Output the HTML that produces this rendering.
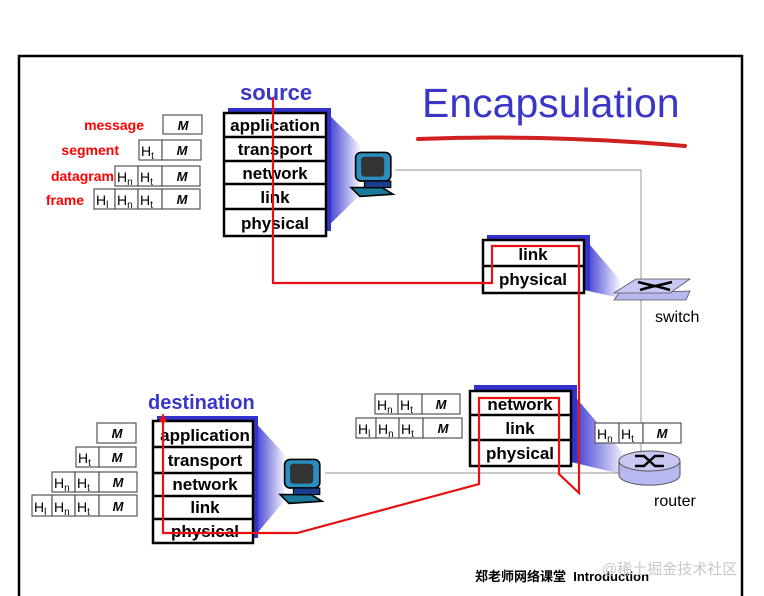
<!DOCTYPE html>
<html><head><meta charset="utf-8"><style>
html,body{margin:0;padding:0;background:#fff;}
svg{display:block;}
.st{font-family:"Liberation Sans",sans-serif;font-weight:bold;font-size:17px;fill:#000;}
.lb{font-family:"Liberation Sans",sans-serif;font-weight:bold;font-size:14px;fill:#f00;}
.h{font-family:"Liberation Sans",sans-serif;font-size:14px;fill:#000;}
.m{font-family:"Liberation Sans",sans-serif;font-weight:bold;font-style:italic;font-size:13px;fill:#000;}
.bl{font-family:"Liberation Sans",sans-serif;font-weight:bold;fill:#3a36c8;}
.g{font-family:"Liberation Sans",sans-serif;font-size:16px;fill:#000;}
</style></head><body>
<svg width="764" height="596" viewBox="0 0 764 596" xmlns="http://www.w3.org/2000/svg">
<defs>
<linearGradient id="sh" x1="0" y1="0" x2="1" y2="0">
<stop offset="0" stop-color="#3030d0"/><stop offset="1" stop-color="#3030d0" stop-opacity="0.05"/>
</linearGradient>
<g id="pc">
<path d="M2 36 L30 36 L40 42 L10 44 Z" fill="#1b7a9a" stroke="#000" stroke-width="1.5"/>
<rect x="6" y="4" width="32" height="26" rx="5" fill="#2a8fc0" stroke="#000" stroke-width="1.5"/>
<rect x="11" y="8" width="21" height="18" rx="3" fill="#333"/>
<rect x="14" y="30" width="24" height="6" fill="#1a3c8c" stroke="#000"/>
</g>
</defs>
<rect x="19" y="56" width="723" height="560" fill="none" stroke="#000" stroke-width="2.5"/>

<text x="422" y="117" class="bl" style="font-weight:normal;font-size:41px">Encapsulation</text>
<path d="M418 139 Q550 134 685 146" stroke="#d02020" stroke-width="4" fill="none" stroke-linecap="round"/>

<polyline points="395,170 641,170 641,455" fill="none" stroke="#aaa" stroke-width="1.2"/>
<line x1="325" y1="473" x2="625" y2="473" stroke="#aaa" stroke-width="1.2"/>

<text x="240" y="100" class="bl" style="font-size:22px">source</text>
<polygon points="326,112 360,145 360,195 326,228" fill="url(#sh)"/>
<rect x="228" y="108" width="103" height="123" fill="#3333cc"/>
<g fill="#fff" stroke="#000" stroke-width="2.5">
<rect x="224" y="113" width="102" height="123"/>
<line x1="224" y1="137" x2="326" y2="137"/><line x1="224" y1="161" x2="326" y2="161"/>
<line x1="224" y1="184" x2="326" y2="184"/><line x1="224" y1="209" x2="326" y2="209"/>
</g>
<g class="st" text-anchor="middle">
<text x="275" y="131">application</text><text x="275" y="155">transport</text>
<text x="275" y="179">network</text><text x="275" y="203">link</text><text x="275" y="229">physical</text>
</g>
<use href="#pc" transform="translate(349,148) scale(1.1)"/>

<g class="lb" text-anchor="end">
<text x="144" y="130">message</text><text x="119" y="155">segment</text>
<text x="114" y="181">datagram</text><text x="84" y="205">frame</text>
</g>
<g fill="#fff" stroke="#555" stroke-width="1.2">
<rect x="163" y="115" width="39" height="19"/>
<rect x="139" y="140" width="23" height="20"/><rect x="162" y="140" width="39" height="20"/>
<rect x="115" y="166" width="23" height="20"/><rect x="138" y="166" width="24" height="20"/><rect x="162" y="166" width="38" height="20"/>
<rect x="94" y="189" width="21" height="20"/><rect x="115" y="189" width="23" height="20"/><rect x="138" y="189" width="24" height="20"/><rect x="162" y="189" width="38" height="20"/>
</g>
<g class="m" text-anchor="middle">
<text x="183" y="130">M</text><text x="182" y="155">M</text><text x="182" y="181">M</text><text x="182" y="204">M</text>
</g>
<g class="h">
<text x="141" y="156">H<tspan font-size="10" dy="3">t</tspan></text>
<text x="117" y="182">H<tspan font-size="10" dy="3">n</tspan></text><text x="140" y="182">H<tspan font-size="10" dy="3">t</tspan></text>
<text x="96" y="205">H<tspan font-size="10" dy="3">l</tspan></text><text x="117" y="205">H<tspan font-size="10" dy="3">n</tspan></text><text x="140" y="205">H<tspan font-size="10" dy="3">t</tspan></text>
</g>

<polygon points="584,238 620,280 620,298 584,290" fill="url(#sh)"/>
<rect x="487" y="235" width="103" height="55" fill="#3333cc"/>
<g fill="#fff" stroke="#000" stroke-width="2.5">
<rect x="483" y="240" width="101" height="53"/><line x1="483" y1="266" x2="584" y2="266"/>
</g>
<g class="st" text-anchor="middle"><text x="533" y="260">link</text><text x="533" y="285">physical</text></g>
<polygon points="614,300 686,300 690,291 619,293 " fill="#b8b8f0" stroke="#555" stroke-width="0.8"/>
<polygon points="614,293 636,279 690,279 670,293" fill="#c8c8f4" stroke="#555" stroke-width="0.8"/>
<path d="M638 282 Q650 285 655 286 Q660 285 672 282 M640 290 Q650 287 655 286 Q660 287 670 290" stroke="#000" stroke-width="2.5" fill="none"/>
<text x="655" y="322" class="g">switch</text>

<polygon points="571,392 625,455 625,475 571,462" fill="url(#sh)"/>
<rect x="474" y="385" width="103" height="77" fill="#3333cc"/>
<g fill="#fff" stroke="#000" stroke-width="2.5">
<rect x="470" y="391" width="101" height="75"/>
<line x1="470" y1="415" x2="571" y2="415"/><line x1="470" y1="440" x2="571" y2="440"/>
</g>
<g class="st" text-anchor="middle"><text x="520" y="410">network</text><text x="520" y="434">link</text><text x="520" y="459">physical</text></g>
<path d="M619 461 L619 475 A30 10 0 0 0 680 475 L680 461" fill="#b8b8f0" stroke="#555"/>
<ellipse cx="649.5" cy="461" rx="30.5" ry="10" fill="#c8c8f4" stroke="#555"/>
<path d="M635 456 L644 456 L655 466 L664 466 M635 466 L644 466 L655 456 L664 456" stroke="#000" stroke-width="2.5" fill="none"/>
<text x="654" y="506" class="g">router</text>
<g fill="#fff" stroke="#555" stroke-width="1.2">
<rect x="595" y="423" width="24" height="20"/><rect x="619" y="423" width="24" height="20"/><rect x="643" y="423" width="38" height="20"/>
<rect x="375" y="394" width="23" height="20"/><rect x="398" y="394" width="24" height="20"/><rect x="422" y="394" width="38" height="20"/>
<rect x="356" y="418" width="20" height="20"/><rect x="376" y="418" width="23" height="20"/><rect x="399" y="418" width="24" height="20"/><rect x="423" y="418" width="39" height="20"/>
</g>
<g class="m" text-anchor="middle"><text x="662" y="438">M</text><text x="441" y="409">M</text><text x="443" y="433">M</text></g>
<g class="h">
<text x="597" y="439">H<tspan font-size="10" dy="3">n</tspan></text><text x="621" y="439">H<tspan font-size="10" dy="3">t</tspan></text>
<text x="377" y="410">H<tspan font-size="10" dy="3">n</tspan></text><text x="400" y="410">H<tspan font-size="10" dy="3">t</tspan></text>
<text x="358" y="434">H<tspan font-size="10" dy="3">l</tspan></text><text x="378" y="434">H<tspan font-size="10" dy="3">n</tspan></text><text x="401" y="434">H<tspan font-size="10" dy="3">t</tspan></text>
</g>

<text x="148" y="409" class="bl" style="font-size:20px">destination</text>
<polygon points="253,420 285,455 285,500 253,538" fill="url(#sh)"/>
<rect x="157" y="416" width="101" height="122" fill="#3333cc"/>
<g fill="#fff" stroke="#000" stroke-width="2.5">
<rect x="153" y="421" width="100" height="122"/>
<line x1="153" y1="447" x2="253" y2="447"/><line x1="153" y1="473" x2="253" y2="473"/>
<line x1="153" y1="496" x2="253" y2="496"/><line x1="153" y1="519" x2="253" y2="519"/>
</g>
<g class="st" text-anchor="middle">
<text x="205" y="441">application</text><text x="205" y="466">transport</text>
<text x="205" y="490">network</text><text x="205" y="513">link</text><text x="205" y="537">physical</text>
</g>
<use href="#pc" transform="translate(278,455) scale(1.1)"/>
<g fill="#fff" stroke="#555" stroke-width="1.2">
<rect x="97" y="423" width="39" height="20"/>
<rect x="76" y="447" width="23" height="20"/><rect x="99" y="447" width="37" height="20"/>
<rect x="52" y="472" width="23" height="20"/><rect x="75" y="472" width="24" height="20"/><rect x="99" y="472" width="38" height="20"/>
<rect x="32" y="495" width="20" height="21"/><rect x="52" y="495" width="23" height="21"/><rect x="75" y="495" width="24" height="21"/><rect x="99" y="495" width="38" height="21"/>
</g>
<g class="m" text-anchor="middle"><text x="117" y="438">M</text><text x="117" y="462">M</text><text x="118" y="487">M</text><text x="118" y="511">M</text></g>
<g class="h">
<text x="78" y="463">H<tspan font-size="10" dy="3">t</tspan></text>
<text x="54" y="488">H<tspan font-size="10" dy="3">n</tspan></text><text x="77" y="488">H<tspan font-size="10" dy="3">t</tspan></text>
<text x="34" y="512">H<tspan font-size="10" dy="3">l</tspan></text><text x="54" y="512">H<tspan font-size="10" dy="3">n</tspan></text><text x="77" y="512">H<tspan font-size="10" dy="3">t</tspan></text>
</g>

<polyline points="273,97 273,283 492,283 492,246 579,246 579,493 559,474 559,398 479,398 479,484 297,533 163,533 163,421" fill="none" stroke="#e81010" stroke-width="2.2"/>
<polygon points="159,422 167,422 163,413" fill="#e81010"/>

<text x="475" y="581" style="font-family:'Liberation Sans','Noto Sans CJK SC',sans-serif;font-weight:bold;font-size:13px">郑老师网络课堂&#160;&#160;Introduction</text>
<text x="602" y="574" style="font-family:'Liberation Sans','Noto Sans CJK SC',sans-serif;font-size:15px;fill:#c8c8c8">@稀土掘金技术社区</text>
</svg>
</body></html>
